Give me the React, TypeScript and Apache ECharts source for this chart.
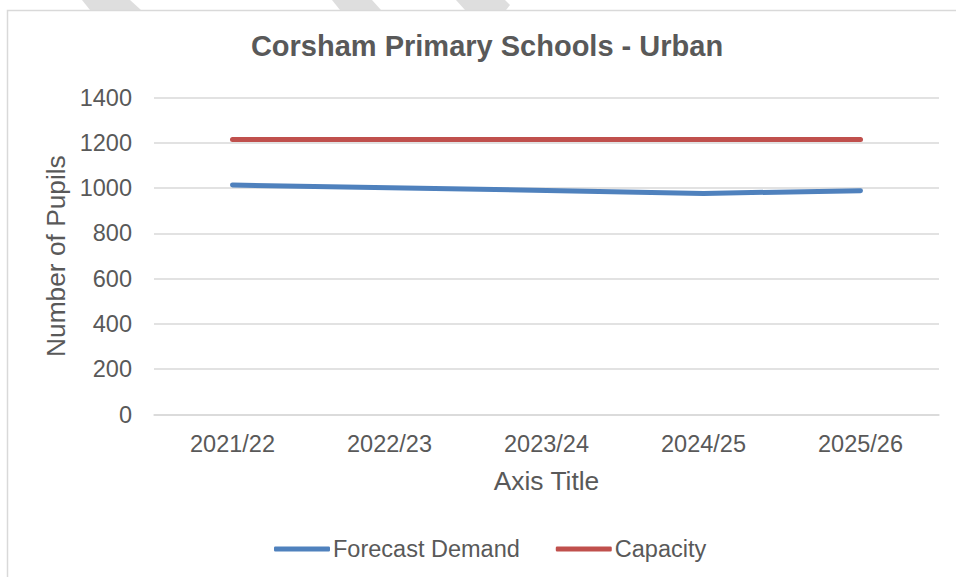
import React, { useEffect, useRef } from "react";
import * as echarts from "echarts";

const categories = ["2021/22", "2022/23", "2023/24", "2024/25", "2025/26"];
const forecastDemand = [1014, 1002, 990, 977, 989];
const capacity = [1215, 1215, 1215, 1215, 1215];
const seriesNames = ["Forecast Demand", "Capacity"];
const titleText = "Corsham Primary Schools - Urban";
const yAxisTitle = "Number of Pupils";
const xAxisTitle = "Axis Title";

const FONT = "'Liberation Sans', Arial, sans-serif";
const TEXT = "#595959";
const GRID = "#d9d9d9";

export default function App() {
  const ref = useRef<HTMLDivElement>(null);

  useEffect(() => {
    if (!ref.current) return;
    const chart = echarts.init(ref.current, null, { renderer: "svg" });
    chart.setOption({
      animation: false,
      backgroundColor: "#ffffff",
      textStyle: { fontFamily: FONT },
      title: {
        text: titleText,
        left: 487,
        top: 31,
        padding: 0,
        textAlign: "center",
        textStyle: { fontFamily: FONT, fontSize: 29, fontWeight: "bold", color: TEXT },
      },
      graphic: [
        { type: "polygon", shape: { points: [[82, 0], [130, 0], [141, 10], [90, 10]] }, style: { fill: "#dedede" }, silent: true },
        { type: "polygon", shape: { points: [[332, 0], [372, 0], [381, 10], [340, 10]] }, style: { fill: "#dedede" }, silent: true },
        { type: "polygon", shape: { points: [[456, 0], [505, 0], [510, 5], [506, 10], [465, 10]] }, style: { fill: "#dedede" }, silent: true },
        { type: "rect", shape: { x: 7.5, y: 10.5, width: 970, height: 600 }, style: { fill: "none", stroke: GRID, lineWidth: 1.5 }, silent: true },
      ],
      legend: {
        left: 274,
        top: 537,
        padding: 0,
        icon: "roundRect",
        itemWidth: 56,
        itemHeight: 5,
        itemGap: 36,
        textStyle: { fontFamily: FONT, fontSize: 23.5, color: TEXT, padding: [0, 0, 0, -2] },
        data: seriesNames,
      },
      grid: { left: 154, right: 17, top: 97.7, bottom: 162.5, containLabel: false },
      xAxis: {
        type: "category",
        data: categories,
        boundaryGap: true,
        name: xAxisTitle,
        nameLocation: "middle",
        nameGap: 53,
        nameTextStyle: { fontFamily: FONT, fontSize: 26.4, color: TEXT },
        axisLine: { show: true, lineStyle: { color: GRID, width: 1.5 } },
        axisTick: { show: false },
        axisLabel: { fontFamily: FONT, fontSize: 23.5, color: TEXT, margin: 17 },
      },
      yAxis: {
        type: "value",
        min: 0,
        max: 1400,
        interval: 200,
        name: yAxisTitle,
        nameLocation: "middle",
        nameGap: 79,
        nameRotate: 90,
        nameTextStyle: { fontFamily: FONT, fontSize: 26.3, color: TEXT },
        axisLine: { show: false },
        axisTick: { show: false },
        axisLabel: {
          fontFamily: FONT,
          fontSize: 23.5,
          color: TEXT,
          margin: 22,
          formatter: (v: number) => String(v),
        },
        splitLine: { show: true, lineStyle: { color: GRID, width: 1.5 } },
      },
      series: [
        {
          name: seriesNames[0],
          type: "line",
          data: forecastDemand,
          symbol: "none",
          color: "#4f81bd",
          lineStyle: { color: "#4f81bd", width: 5, cap: "round", join: "round" },
        },
        {
          name: seriesNames[1],
          type: "line",
          data: capacity,
          symbol: "none",
          color: "#c0504d",
          lineStyle: { color: "#c0504d", width: 5, cap: "round", join: "round" },
        },
      ],
    });
    return () => chart.dispose();
  }, []);

  return (
    <div
      ref={ref}
      style={{ position: "fixed", left: 0, top: 0, width: 956, height: 577 }}
    />
  );
}
